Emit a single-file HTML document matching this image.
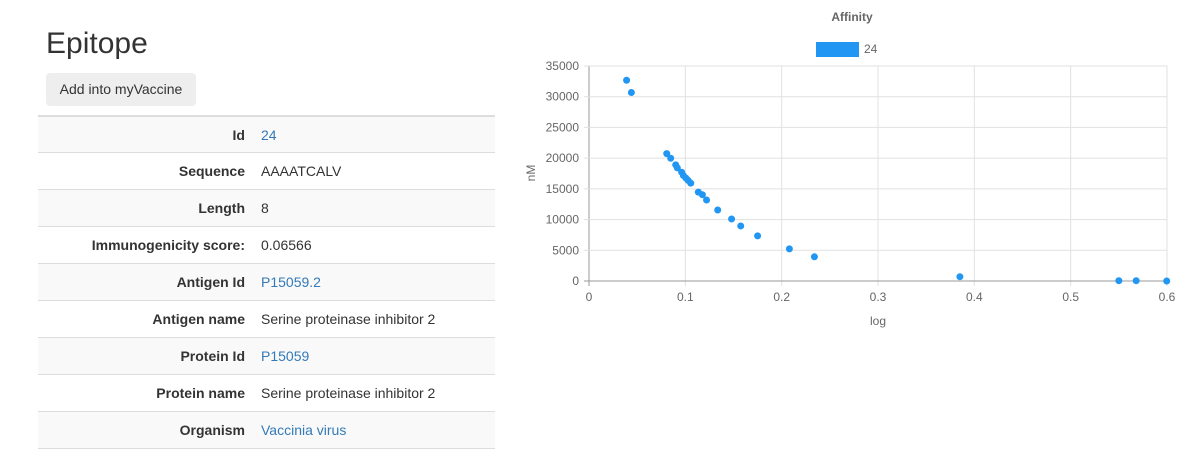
<!DOCTYPE html>
<html><head><meta charset="utf-8">
<style>
body{margin:0;width:1192px;height:451px;overflow:hidden;background:#fff;font-family:"Liberation Sans",sans-serif;color:#333;position:relative}
h1{position:absolute;left:46px;top:26px;margin:0;font-size:30px;font-weight:400;line-height:36px}
.btn{position:absolute;left:46px;top:73px;width:150px;height:33px;background:#eee;border-radius:4px;font-size:14px;line-height:33px;text-align:center;color:#333}
table{position:absolute;left:38px;top:115px;width:457px;border-collapse:collapse;font-size:14px}
td{height:36px;border-top:1px solid #ddd;padding:0 8px;vertical-align:middle}
tr:nth-child(odd) td{background:#f9f9f9}
tr:first-child td{border-top:2px solid #ddd;height:35px}
tr:last-child td{border-bottom:1px solid #ddd}
td.l{width:199px;text-align:right;font-weight:bold}
a{color:#337ab7;text-decoration:none}
svg{position:absolute;left:0;top:0}
</style></head><body>
<h1>Epitope</h1>
<div class="btn">Add into myVaccine</div>
<table>
<tr><td class="l">Id</td><td><a href="#">24</a></td></tr>
<tr><td class="l">Sequence</td><td>AAAATCALV</td></tr>
<tr><td class="l">Length</td><td>8</td></tr>
<tr><td class="l">Immunogenicity score:</td><td>0.06566</td></tr>
<tr><td class="l">Antigen Id</td><td><a href="#">P15059.2</a></td></tr>
<tr><td class="l">Antigen name</td><td>Serine proteinase inhibitor 2</td></tr>
<tr><td class="l">Protein Id</td><td><a href="#">P15059</a></td></tr>
<tr><td class="l">Protein name</td><td>Serine proteinase inhibitor 2</td></tr>
<tr><td class="l">Organism</td><td><a href="#">Vaccinia virus</a></td></tr>
</table>
<svg id="chart" width="1192" height="451" font-family="Liberation Sans, sans-serif"></svg>
<script>
const xVals=[0.039,0.044,0.0807,0.0848,0.090,0.0917,0.0962,0.098,0.1007,0.103,0.1056,0.1135,0.1177,0.122,0.1336,0.148,0.1575,0.175,0.208,0.234,0.385,0.55,0.568,0.5997];
const yVals=[32680,30680,20740,19980,18900,18420,17710,17180,16740,16370,15930,14470,14050,13180,11560,10100,8960,7340,5230,3940,700,50,50,0];
const xTicks=[0,0.1,0.2,0.3,0.4,0.5,0.6];
const yTicks=[0,5000,10000,15000,20000,25000,30000,35000];
const NS='http://www.w3.org/2000/svg';
const svg=document.getElementById('chart');
const X0=589,X1=1167,Y0=281,Y1=66;
const sx=v=>X0+(v-0)/(0.6)*(X1-X0);
const sy=v=>Y0-v/35000*(Y0-Y1);
function mk(t,a,txt){const e=document.createElementNS(NS,t);for(const k in a)e.setAttribute(k,a[k]);if(txt!==undefined)e.textContent=txt;svg.appendChild(e);return e;}
xTicks.forEach(t=>{
 const l=mk('line',{x1:sx(t),x2:sx(t),y1:Y1,y2:Y0+5,stroke:t===0?'#999':'#e1e1e1','stroke-width':1});
 
 
 const s=mk('text',{x:sx(t),y:Y0+20,'text-anchor':'middle','font-size':12,fill:'#666'},String(t));
 
 
});
yTicks.forEach(t=>{
 const l=mk('line',{x1:X0-5,x2:X1,y1:sy(t),y2:sy(t),stroke:t===0?'#999':'#e1e1e1','stroke-width':1});
 
 
 const s=mk('text',{x:X0-10,y:sy(t)+4,'text-anchor':'end','font-size':12,fill:'#666'},String(t));
 
 
});
xVals.forEach((v,i)=>{
 const c=mk('circle',{cx:sx(v),cy:sy(yVals[i]),r:3.5,fill:'#2196f3'});
 
 
});
let e;
e=mk('text',{x:852,y:21,'text-anchor':'middle','font-size':12,'font-weight':'bold',fill:'#666'},'Affinity');


e=mk('rect',{x:816,y:42,width:43,height:15,fill:'#2196f3'});


e=mk('text',{x:864,y:53,'font-size':12,fill:'#666'},'24');


e=mk('text',{x:878,y:325,'text-anchor':'middle','font-size':12,fill:'#666'},'log');


e=mk('text',{x:535,y:173,'text-anchor':'middle','font-size':12,fill:'#666',transform:'rotate(-90 535 173)'},'nM');


</script>
</body></html>
